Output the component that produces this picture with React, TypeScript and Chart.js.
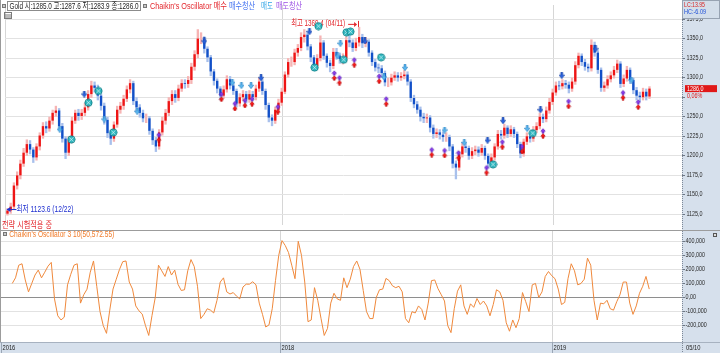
import React, { useEffect, useRef } from 'react';
import { Chart, registerables } from 'chart.js';

Chart.register(...registerables);

// ---------------- DATA ----------------
// One candle = about 3 trading days, 2016-12-20 .. 2019-05-10 (Gold)
const firstOpen = 1126;
const closes = [
  1130, 1135, 1162, 1175, 1190, 1204, 1215, 1208, 1198, 1212,
  1226, 1238, 1235, 1245, 1255, 1258, 1238, 1222, 1204, 1220,
  1245, 1255, 1251, 1255, 1262, 1279, 1290, 1287, 1277, 1264,
  1246, 1229, 1222, 1240, 1259, 1264, 1273, 1285, 1293, 1270,
  1262, 1255, 1248, 1248, 1232, 1220, 1212, 1230, 1245, 1255,
  1270, 1279, 1274, 1286, 1293, 1292, 1297, 1314, 1330, 1350,
  1350, 1337, 1326, 1308, 1296, 1286, 1277, 1285, 1298, 1290,
  1283, 1267, 1275, 1279, 1272, 1279, 1275, 1286, 1295, 1283,
  1265, 1249, 1245, 1259, 1268, 1282, 1304, 1320, 1320, 1332,
  1338, 1352, 1355, 1340, 1326, 1315, 1325, 1345, 1328, 1319,
  1315, 1333, 1328, 1324, 1325, 1348, 1345, 1338, 1345, 1352,
  1344, 1346, 1332, 1320, 1313, 1312, 1306, 1294, 1294, 1300,
  1303, 1300, 1302, 1304, 1295, 1274, 1266, 1259, 1250, 1248,
  1249, 1236, 1228, 1230, 1227, 1224, 1224, 1212, 1190, 1185,
  1202, 1212, 1210, 1200, 1206, 1208, 1204, 1210, 1200, 1190,
  1198, 1212, 1228, 1226, 1236, 1228, 1234, 1228, 1215, 1203,
  1218, 1225, 1222, 1233, 1238, 1250, 1247, 1258, 1269, 1281,
  1290, 1289, 1293, 1291, 1286, 1295, 1316, 1328, 1320, 1314,
  1312, 1342, 1332, 1310, 1287, 1290, 1298, 1303, 1310, 1318,
  1292, 1299, 1310, 1297, 1284, 1277, 1275, 1282, 1276, 1286,
];
const highs = [
  1133, 1140, 1166, 1180, 1195, 1210, 1221, 1220, 1211, 1216,
  1230, 1243, 1244, 1250, 1259, 1264, 1261, 1242, 1225, 1225,
  1250, 1259, 1260, 1260, 1268, 1284, 1296, 1295, 1291, 1280,
  1268, 1250, 1233, 1244, 1264, 1269, 1278, 1290, 1298, 1296,
  1275, 1266, 1259, 1254, 1251, 1235, 1224, 1234, 1250, 1260,
  1275, 1284, 1284, 1291, 1298, 1298, 1302, 1319, 1335, 1362,
  1358, 1353, 1340, 1329, 1311, 1299, 1289, 1290, 1303, 1302,
  1294, 1286, 1280, 1284, 1283, 1284, 1283, 1291, 1300, 1298,
  1286, 1268, 1253, 1263, 1273, 1287, 1308, 1325, 1327, 1337,
  1343, 1358, 1362, 1358, 1343, 1329, 1330, 1354, 1348, 1331,
  1323, 1338, 1338, 1332, 1331, 1353, 1354, 1349, 1351, 1365,
  1356, 1352, 1349, 1335, 1324, 1318, 1316, 1309, 1300, 1305,
  1308, 1307, 1307, 1310, 1308, 1298, 1278, 1270, 1263, 1255,
  1254, 1252, 1240, 1235, 1234, 1231, 1230, 1227, 1215, 1194,
  1206, 1217, 1216, 1213, 1211, 1213, 1212, 1215, 1213, 1203,
  1203, 1216, 1233, 1233, 1241, 1239, 1239, 1237, 1231, 1218,
  1222, 1230, 1229, 1238, 1243, 1255, 1254, 1263, 1274, 1286,
  1295, 1296, 1298, 1297, 1295, 1300, 1321, 1332, 1331, 1324,
  1318, 1349, 1346, 1335, 1313, 1295, 1303, 1308, 1315, 1323,
  1321, 1304, 1315, 1313, 1300, 1288, 1282, 1287, 1286, 1289,
];
const lows = [
  1123.6, 1126, 1132, 1157, 1170, 1186, 1200, 1202, 1191, 1194,
  1207, 1222, 1229, 1231, 1240, 1250, 1233, 1217, 1196, 1200,
  1216, 1241, 1245, 1246, 1251, 1258, 1274, 1281, 1271, 1258,
  1240, 1223, 1214, 1218, 1236, 1254, 1259, 1269, 1280, 1265,
  1256, 1249, 1243, 1242, 1227, 1214, 1205, 1208, 1226, 1240,
  1251, 1265, 1268, 1270, 1282, 1286, 1287, 1292, 1309, 1325,
  1343, 1331, 1320, 1302, 1290, 1280, 1271, 1273, 1281, 1285,
  1278, 1262, 1263, 1270, 1267, 1268, 1270, 1271, 1282, 1278,
  1259, 1243, 1238, 1241, 1255, 1264, 1279, 1300, 1314, 1316,
  1327, 1334, 1345, 1335, 1320, 1309, 1311, 1321, 1323, 1313,
  1307, 1311, 1323, 1318, 1317, 1321, 1339, 1333, 1334, 1340,
  1338, 1339, 1327, 1315, 1308, 1306, 1300, 1289, 1288, 1290,
  1296, 1295, 1296, 1298, 1290, 1269, 1261, 1254, 1244, 1242,
  1242, 1230, 1222, 1223, 1221, 1218, 1218, 1206, 1184, 1170,
  1181, 1198, 1204, 1195, 1196, 1201, 1199, 1200, 1195, 1184,
  1186, 1194, 1208, 1221, 1222, 1223, 1224, 1223, 1210, 1197,
  1199, 1214, 1217, 1218, 1229, 1234, 1242, 1243, 1254, 1265,
  1277, 1284, 1285, 1286, 1280, 1282, 1291, 1312, 1315, 1309,
  1307, 1308, 1327, 1305, 1282, 1282, 1286, 1294, 1299, 1306,
  1287, 1288, 1295, 1292, 1279, 1271, 1269, 1271, 1271, 1273,
];
// Chaikin's Oscillator, in thousands
const oscK = [
  null, null, null, 100, 140, 230, 240, 125, 40, 100,
  160, 195, 140, 180, 223, 250, -10, -130, -160, -140,
  90, 165, 230, 240, -40, 20, 59, 180, 260, 80,
  -100, -200, -255, -90, 60, 130, 200, 255, 260, 110,
  60, -60, -95, -118, -200, -270, -129, 0, 230, 190,
  150, 220, 160, 195, 94, 50, 55, 190, 270, 220,
  80, -150, -120, -80, -90, -110, -20, 110, 140, 40,
  25, 35, 10, -10, 75, 95, 95, 112, 90, -40,
  -120, -210, -195, -80, 120, 300, 405, 370, 320, 230,
  134, 400, 300, 110, -172, -160, 70, -20, -148, -270,
  -220, -40, 30, -10, -20, 140, 70, 130, 220, 260,
  200, 50, -100, -150, -150, 0, 55, 60, 136, 120,
  83, 70, 80, 40, -150, -180, -101, -110, -60, -85,
  -160, -40, 120, 125, 63, 20, -25, -200, -250, -80,
  45, 90, -60, -120, -45, -70, -7, -50, -25, -60,
  -130, -50, 55, 40, -20, -180, -240, -160, -215, -150,
  35, -30, -100, 90, 100, 0, 40, 150, 185, 155,
  134, 60, -50, -35, 134, 240, 190, 90, 100, 130,
  280, 230, -20, -160, -40, -45, -20, -80, -90, -30,
  20, 110, 110, -40, -120, -60, 30, 80, 150, 60,
];

const yearTickPos = [-0.7, 85.4, 169.2];
const yearTickLabels = ['2016', '2018', '2019'];
const lastDateLabel = '05/10';
const priceTicks = [1125, 1150, 1175, 1200, 1225, 1250, 1275, 1300, 1325, 1350, 1375];
const hiddenPriceLabel = 1275;
const oscTicksK = [-200, -100, 0, 100, 200, 300, 400];

// signal markers [barIndex, price]
const tealCircles = [
  [19.8, 1221], [25.1, 1268], [28.2, 1283], [32.8, 1230], [95.2, 1313], [96.4, 1366],
  [104.2, 1323], [105.1, 1358], [106.3, 1359], [115.8, 1326], [150.5, 1189], [162.8, 1229],
];
const exitLongArrows = [
  [23.8, 1279], [61.0, 1347], [78.6, 1300], [93.6, 1359], [110.8, 1347],
  [148.8, 1220], [153.6, 1245], [165.2, 1259], [171.8, 1303], [182.3, 1337],
];
const shortArrows = [
  [16.2, 1234], [30.0, 1247], [40.2, 1257], [69.7, 1294], [72.5, 1290], [75.5, 1290],
  [102.3, 1328], [103.2, 1344], [116.7, 1301], [123.2, 1313], [135.5, 1233], [141.6, 1217],
  [161.1, 1235], [193.4, 1297],
];
const buyPairs = [
  [46.9, 1227], [66.3, 1279], [70.5, 1267], [73.6, 1271], [75.8, 1273], [83.8, 1263],
  [101.3, 1306], [102.9, 1300], [107.5, 1323], [115.2, 1302], [117.4, 1273], [131.5, 1208],
  [135.5, 1207], [139.8, 1204], [148.5, 1185], [153.4, 1218], [159.5, 1212], [166.0, 1232],
  [173.9, 1270], [190.8, 1281], [195.5, 1269],
];

const legendGold = 'Gold 시:1285.0 고:1287.6 저:1283.9 종:1286.0';
const legendSignal = "Chaikin's Oscillator 매수";
const legendExitLong = '매수청산';
const legendShort = '매도';
const legendExitShort = '매도청산';
const highNote = '최고 1369.4 (04/11)';
const lowNote = '최저 1123.6 (12/22)';
const strategyNote = '전략 시험적용 중';
const oscLegend = "Chaikin's Oscillator 3 10(50,572.55)";
const lcText = 'LC:13.95';
const hcText = 'HC:-6.09';
const changePctText = '0,06%';

// ---------------- LAYOUT / STYLE ----------------
const W = 720;
const H = 353;
const TOP_H = 230;
const AXIS_W = 38;
const X_MIN = -0.77;
const X_MAX = 209.08;
const P_MIN = 1111.5;
const P_MAX = 1393;
const O_MIN = -316.7;
const O_MAX = 473.3;
const AXIS_BG = '#d6e0ec';
const GRID = '#e2e2e2';
const YEAR_GRID = '#d6d6d6';
const UP = '#ee1515';
const DOWN = '#1250c8';
const UP_WICK = '#f6b4b4';
const DOWN_WICK = '#a8c0ec';
const FONT = '"Liberation Sans", "Noto Sans CJK KR", "DejaVu Sans", sans-serif';
const SX = 0.72;

function drawText(ctx: CanvasRenderingContext2D, s: string, x: number, y: number, size: number, color: string, width?: number) {
  ctx.save();
  ctx.font = `${size}px ${FONT}`;
  const m = ctx.measureText(s).width;
  const sx = width ? width / m : SX;
  ctx.translate(x, y);
  ctx.scale(sx, 1);
  ctx.fillStyle = color;
  ctx.textBaseline = 'middle';
  ctx.textAlign = 'left';
  ctx.fillText(s, 0, 0);
  ctx.restore();
}

function dottedV(ctx: CanvasRenderingContext2D, x: number, y1: number, y2: number, color: string) {
  ctx.fillStyle = color;
  for (let y = y1; y < y2; y += 2) ctx.fillRect(x, y, 1, 1);
}

function smallBox(ctx: CanvasRenderingContext2D, x: number, y: number, s: number) {
  ctx.fillStyle = '#c8c8c8';
  ctx.fillRect(x, y, s, s);
  ctx.strokeStyle = '#777';
  ctx.lineWidth = 1;
  ctx.strokeRect(x + 0.5, y + 0.5, s - 1, s - 1);
}

function drawArrow(g: CanvasRenderingContext2D, ox: number, oy: number, w: number, h: number, color: string, edge: string, dir: 'up' | 'down') {
  g.save();
  g.translate(ox, oy);
  if (dir === 'down') {
    g.translate(0, h);
    g.scale(1, -1);
  }
  g.beginPath();
  g.moveTo(w / 2, 0.3);
  g.lineTo(w - 0.3, h * 0.55);
  g.lineTo(w / 2 + 1, h * 0.55);
  g.lineTo(w / 2 + 1, h - 0.3);
  g.lineTo(w / 2 - 1, h - 0.3);
  g.lineTo(w / 2 - 1, h * 0.55);
  g.lineTo(0.3, h * 0.55);
  g.closePath();
  g.fillStyle = color;
  g.fill();
  g.strokeStyle = edge;
  g.lineWidth = 0.6;
  g.stroke();
  g.restore();
}

function arrowImg(color: string, edge: string, dir: 'up' | 'down') {
  const c = document.createElement('canvas');
  c.width = 6;
  c.height = 7;
  drawArrow(c.getContext('2d')!, 0, 0, 6, 7, color, edge, dir);
  return c;
}

function pairImg() {
  const c = document.createElement('canvas');
  c.width = 6;
  c.height = 16;
  const g = c.getContext('2d')!;
  drawArrow(g, 0.5, 5.5, 5, 5, '#8a3df0', '#5a1fb0', 'up');
  drawArrow(g, 0.5, 10.5, 5, 5, '#ff1a1a', '#b00000', 'up');
  return c;
}

function circleImg() {
  const c = document.createElement('canvas');
  c.width = 9;
  c.height = 9;
  const g = c.getContext('2d')!;
  g.beginPath();
  g.arc(4.5, 4.5, 3.6, 0, Math.PI * 2);
  g.fillStyle = '#2fb9c2';
  g.fill();
  g.strokeStyle = '#15878f';
  g.lineWidth = 1;
  g.stroke();
  g.strokeStyle = 'rgba(255,255,255,0.85)';
  g.lineWidth = 0.7;
  g.beginPath();
  g.moveTo(2.4, 2.4); g.lineTo(6.6, 6.6);
  g.moveTo(6.6, 2.4); g.lineTo(2.4, 6.6);
  g.stroke();
  return c;
}

const fmtPrice = (v: number) => v.toFixed(1).replace('.', ',');
const fmtOsc = (v: number) => (v === 0 ? '0,00' : (v * 1000).toLocaleString('en-US'));

function xScale() {
  return {
    type: 'linear',
    min: X_MIN,
    max: X_MAX,
    offset: false,
    bounds: 'data',
    grid: { color: YEAR_GRID, drawTicks: false, offset: false, lineWidth: 1 },
    border: { display: false },
    ticks: { display: false },
    afterBuildTicks: (s: any) => { s.ticks = yearTickPos.map((v) => ({ value: v })); },
    afterFit: (s: any) => { s.height = 0; s.paddingLeft = 0; s.paddingRight = 0; s.paddingTop = 0; s.paddingBottom = 0; },
  };
}

export default function App() {
  const topRef = useRef<HTMLCanvasElement | null>(null);
  const botRef = useRef<HTMLCanvasElement | null>(null);

  useEffect(() => {
    const opens = closes.map((_, i) => (i === 0 ? firstOpen : closes[i - 1]));
    const up = closes.map((c, i) => c >= opens[i]);
    const maxIdx = highs.indexOf(Math.max(...highs));
    const minIdx = lows.indexOf(Math.min(...lows));

    const base: any = {
      responsive: false,
      maintainAspectRatio: false,
      animation: false,
      devicePixelRatio: 1,
      events: [],
      plugins: { legend: { display: false }, tooltip: { enabled: false } },
    };

    const pricePlugin = {
      id: 'pricePanel',
      beforeDraw(chart: any) {
        const { ctx, width, height, chartArea: ca } = chart;
        ctx.save();
        ctx.fillStyle = '#ffffff';
        ctx.fillRect(0, 0, width, height);
        ctx.fillStyle = AXIS_BG;
        ctx.fillRect(ca.right, 0, width - ca.right, height);
        ctx.restore();
      },
      beforeDatasetsDraw(chart: any) {
        const { ctx } = chart;
        const xs = chart.scales.x;
        const ys = chart.scales.y;
        ctx.save();
        const bx = xs.getPixelForValue(maxIdx);
        const by = ys.getPixelForValue(highs[maxIdx]) - 3;
        drawText(ctx, highNote, bx - 68, by, 9, '#e3262c', 54);
        ctx.strokeStyle = '#e3262c';
        ctx.fillStyle = '#e3262c';
        ctx.lineWidth = 1;
        ctx.beginPath();
        ctx.moveTo(bx - 11, by + 0.5);
        ctx.lineTo(bx - 4, by + 0.5);
        ctx.stroke();
        ctx.beginPath();
        ctx.moveTo(bx - 2, by + 0.5);
        ctx.lineTo(bx - 5, by - 2);
        ctx.lineTo(bx - 5, by + 3);
        ctx.closePath();
        ctx.fill();
        ctx.fillRect(Math.round(bx - 1), by - 3, 1, 7);
        ctx.restore();
      },
      afterDraw(chart: any) {
        const { ctx, width, height, chartArea: ca } = chart;
        const xs = chart.scales.x;
        const ys = chart.scales.y;
        ctx.save();
        // borders
        ctx.fillStyle = '#9a9a9a';
        ctx.fillRect(0, 0, 1, height);
        dottedV(ctx, ca.right, 0, height, '#7d8896');
        // y labels
        priceTicks.forEach((v) => {
          if (v === hiddenPriceLabel) return;
          drawText(ctx, fmtPrice(v), ca.right + 4.5, ys.getPixelForValue(v) - 0.5, 7.5, '#2b2b2b');
        });
        // last price box
        const last = closes[closes.length - 1];
        const ly = ys.getPixelForValue(last);
        ctx.fillStyle = '#e01818';
        ctx.fillRect(ca.right + 3, ly - 3.5, 32, 7);
        drawText(ctx, fmtPrice(last), ca.right + 5, ly, 7.5, '#ffffff');
        drawText(ctx, changePctText, ca.right + 5, ly + 7.5, 7.5, '#e01818');
        // LC / HC box
        ctx.fillStyle = '#d3deea';
        ctx.fillRect(ca.right, 0, width - ca.right, 19);
        ctx.strokeStyle = '#97a3b2';
        ctx.lineWidth = 1;
        ctx.strokeRect(ca.right + 0.5, 0.5, width - ca.right - 1, 18);
        drawText(ctx, lcText, ca.right + 2, 5, 8, '#d81e1e', 21);
        drawText(ctx, hcText, ca.right + 2, 12, 8, '#1e4fd8', 22);
        // legend row
        smallBox(ctx, 2, 4, 4);
        ctx.fillStyle = '#ffffff';
        ctx.fillRect(7, 1, 134, 10);
        ctx.strokeStyle = '#8c8c8c';
        ctx.strokeRect(7.5, 1.5, 133, 9);
        drawText(ctx, legendGold, 9.5, 6.2, 9, '#1c1c1c', 129);
        smallBox(ctx, 143, 4, 4);
        drawText(ctx, legendSignal, 150, 6.2, 9, '#e3262c', 77);
        drawText(ctx, legendExitLong, 229, 6.2, 9, '#3f6ff0', 26);
        drawText(ctx, legendShort, 261, 6.2, 9, '#33a6e6', 12);
        drawText(ctx, legendExitShort, 276, 6.2, 9, '#9b4fe4', 26);
        // grid icon
        ctx.strokeStyle = '#7a7a7a';
        ctx.strokeRect(4.5, 12.5, 7, 6);
        ctx.fillStyle = '#7a7a7a';
        ctx.fillRect(5, 14.5, 6, 1);
        ctx.fillRect(5, 16.5, 6, 1);
        // lowest note
        const lx = xs.getPixelForValue(minIdx);
        const lyy = ys.getPixelForValue(lows[minIdx]) - 6;
        ctx.fillStyle = '#1f2fd0';
        ctx.beginPath();
        ctx.moveTo(lx - 1, lyy);
        ctx.lineTo(lx + 3, lyy - 2.5);
        ctx.lineTo(lx + 3, lyy + 2.5);
        ctx.closePath();
        ctx.fill();
        ctx.fillRect(lx + 3, lyy - 0.5, 6, 1);
        drawText(ctx, lowNote, lx + 9, lyy, 9, '#1f2fd0', 57);
        drawText(ctx, strategyNote, 2, 225.5, 9, '#e3262c', 50);
        ctx.restore();
      },
    };

    const osPlugin = {
      id: 'oscPanel',
      beforeDraw(chart: any) {
        const { ctx, width, height, chartArea: ca } = chart;
        ctx.save();
        ctx.fillStyle = '#ffffff';
        ctx.fillRect(0, 0, width, height);
        ctx.fillStyle = AXIS_BG;
        ctx.fillRect(ca.right, 0, width - ca.right, height);
        ctx.fillRect(0, ca.bottom, width, height - ca.bottom);
        ctx.restore();
      },
      afterDraw(chart: any) {
        const { ctx, width, height, chartArea: ca } = chart;
        const xs = chart.scales.x;
        const ys = chart.scales.y;
        ctx.save();
        ctx.fillStyle = '#9c9c9c';
        ctx.fillRect(0, 0, width, 1);
        ctx.fillRect(0, 0, 1, ca.bottom);
        dottedV(ctx, ca.right, 1, height, '#7d8896');
        // strip top border
        ctx.fillStyle = '#a7b2c0';
        ctx.fillRect(0, ca.bottom, width, 1);
        // legend
        smallBox(ctx, 3, 2, 4);
        drawText(ctx, oscLegend, 9.3, 4.5, 9, '#f07a28', 105);
        // y labels
        oscTicksK.forEach((v) => {
          drawText(ctx, fmtOsc(v), ca.right + 3.5, ys.getPixelForValue(v) - 0.5, 7.5, '#2b2b2b');
        });
        // corner box
        ctx.fillStyle = '#555';
        ctx.fillRect(width - 7, 3, 4, 4);
        ctx.fillStyle = '#ddd';
        ctx.fillRect(width - 6, 4, 2, 2);
        // x labels
        yearTickPos.forEach((v, i) => {
          const px = Math.max(1, Math.round(xs.getPixelForValue(v)));
          ctx.fillStyle = '#9aa6b5';
          ctx.fillRect(px, ca.bottom, 1, height - ca.bottom);
          drawText(ctx, yearTickLabels[i], px + 1.5, ca.bottom + 6, 8, '#222222');
        });
        drawText(ctx, lastDateLabel, ca.right + 4, ca.bottom + 6, 8, '#222222');
        ctx.restore();
      },
    };

    const top = new Chart(topRef.current!, {
      type: 'bar',
      data: {
        datasets: [
          { type: 'scatter', data: buyPairs.map(([x, y]) => ({ x, y })), pointStyle: pairImg(), pointRadius: 4, order: 0 } as any,
          { type: 'scatter', data: tealCircles.map(([x, y]) => ({ x, y })), pointStyle: circleImg(), pointRadius: 4, order: 0 } as any,
          { type: 'scatter', data: exitLongArrows.map(([x, y]) => ({ x, y })), pointStyle: arrowImg('#2a63e0', '#163e9c', 'down'), pointRadius: 4, order: 0 } as any,
          { type: 'scatter', data: shortArrows.map(([x, y]) => ({ x, y })), pointStyle: arrowImg('#5ab6f0', '#2a82c0', 'down'), pointRadius: 4, order: 0 } as any,
          {
            type: 'bar',
            data: closes.map((c, i) => ({ x: i, y: [opens[i], c] })),
            backgroundColor: up.map((u) => (u ? UP : DOWN)),
            borderWidth: 0,
            grouped: false,
            maxBarThickness: 2.6,
            order: 5,
          } as any,
          {
            type: 'bar',
            data: highs.map((h, i) => ({ x: i, y: [lows[i], h] })),
            backgroundColor: up.map((u) => (u ? UP_WICK : DOWN_WICK)),
            borderWidth: 0,
            grouped: false,
            maxBarThickness: 3.3,
            order: 6,
          } as any,
        ],
      },
      options: {
        ...base,
        layout: { padding: 0 },
        scales: {
          x: xScale(),
          y: {
            type: 'linear',
            position: 'right',
            min: P_MIN,
            max: P_MAX,
            beginAtZero: false,
            bounds: 'data',
            grid: { color: GRID, drawTicks: true, tickLength: 3, tickColor: '#6d7785', lineWidth: 1 },
            border: { display: false },
            ticks: { display: false },
            afterBuildTicks: (s: any) => { s.ticks = priceTicks.map((v) => ({ value: v })); },
            afterFit: (s: any) => { s.width = AXIS_W; s.paddingTop = 0; s.paddingBottom = 0; s.paddingLeft = 0; s.paddingRight = 0; },
          },
        },
      } as any,
      plugins: [pricePlugin],
    });

    const bot = new Chart(botRef.current!, {
      type: 'line',
      data: {
        datasets: [
          {
            data: oscK.map((v, i) => (v === null ? null : { x: i, y: v })).filter((p) => p !== null) as any,
            borderColor: '#f0893c',
            borderWidth: 1,
            pointRadius: 0,
            tension: 0,
            fill: false,
          },
        ],
      },
      options: {
        ...base,
        layout: { padding: { top: 1, bottom: 11, left: 0, right: 0 } },
        scales: {
          x: xScale(),
          y: {
            type: 'linear',
            position: 'right',
            min: O_MIN,
            max: O_MAX,
            beginAtZero: false,
            bounds: 'data',
            grid: {
              color: (c: any) => (c.tick && c.tick.value === 0 ? '#8e8e8e' : GRID),
              drawTicks: true,
              tickLength: 3,
              tickColor: '#6d7785',
              lineWidth: 1,
            },
            border: { display: false },
            ticks: { display: false },
            afterBuildTicks: (s: any) => { s.ticks = oscTicksK.map((v) => ({ value: v })); },
            afterFit: (s: any) => { s.width = AXIS_W; s.paddingTop = 0; s.paddingBottom = 0; s.paddingLeft = 0; s.paddingRight = 0; },
          },
        },
      } as any,
      plugins: [osPlugin],
    });

    return () => {
      top.destroy();
      bot.destroy();
    };
  }, []);

  return (
    <div style={{ position: 'fixed', left: 0, top: 0, width: W, height: H, background: '#fff', overflow: 'hidden' }}>
      <canvas ref={topRef} width={W} height={TOP_H} style={{ position: 'absolute', left: 0, top: 0, width: W, height: TOP_H }} />
      <canvas ref={botRef} width={W} height={H - TOP_H} style={{ position: 'absolute', left: 0, top: TOP_H, width: W, height: H - TOP_H }} />
    </div>
  );
}
